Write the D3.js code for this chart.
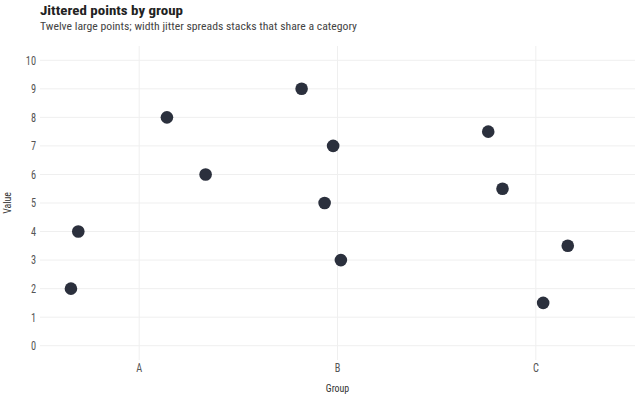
<!DOCTYPE html>
<html>
<head>
<meta charset="utf-8">
<script src="https://cdn.jsdelivr.net/npm/d3@7"></script>
<style>
  html, body { margin: 0; padding: 0; background: #fff; }
  text { font-family: "Roboto Condensed", Roboto, sans-serif; }
</style>
</head>
<body>
<div id="chart"></div>
<script>
// Chart values
const groups = ["A", "B", "C"];
const pointGroup = ["A", "A", "A", "A", "B", "B", "B", "B", "C", "C", "C", "C"];
const pointValue = [2, 4, 8, 6, 9, 7, 5, 3, 7.5, 5.5, 3.5, 1.5];
// horizontal jitter, in fractions of one category step
const pointJitter = [-0.344, -0.307, 0.140, 0.335, -0.181, -0.022, -0.065, 0.017, -0.240, -0.168, 0.161, 0.037];
const yTicks = [0, 1, 2, 3, 4, 5, 6, 7, 8, 9, 10];

const width = 640, height = 400;
const margin = { top: 46, right: 5, bottom: 40, left: 40 };
// Roboto Condensed is not installed, so squeeze plain Roboto a bit
const squeeze = 0.86;

const svg = d3.select("#chart")
    .append("svg")
    .attr("width", width)
    .attr("height", height);

const x = d3.scaleBand()
    .domain(groups)
    .range([margin.left, width - margin.right])
    .padding(0);

const y = d3.scaleLinear()
    .domain([-0.5, 10.5])
    .range([height - margin.bottom, margin.top]);

const points = pointValue.map((v, i) => ({
    group: pointGroup[i],
    value: v,
    jitter: pointJitter[i]
}));

// Grid lines
svg.append("g")
    .selectAll("line.hgrid")
    .data(yTicks)
    .enter().append("line")
    .attr("x1", margin.left)
    .attr("x2", width - margin.right)
    .attr("y1", d => y(d))
    .attr("y2", d => y(d))
    .attr("stroke", "#efefef")
    .attr("stroke-width", 1);

svg.append("g")
    .selectAll("line.vgrid")
    .data(groups)
    .enter().append("line")
    .attr("x1", d => x(d) + x.bandwidth() / 2)
    .attr("x2", d => x(d) + x.bandwidth() / 2)
    .attr("y1", margin.top)
    .attr("y2", height - margin.bottom)
    .attr("stroke", "#efefef")
    .attr("stroke-width", 1);

// Axes (no lines, just labels)
const yAxis = svg.append("g")
    .attr("transform", `translate(${margin.left},0)`)
    .call(d3.axisLeft(y).tickValues(yTicks).tickSize(0).tickPadding(4));

const xAxis = svg.append("g")
    .attr("transform", `translate(0,${height - margin.bottom})`)
    .call(d3.axisBottom(x).tickSize(0).tickPadding(3));

[yAxis, xAxis].forEach(a => {
    a.select(".domain").remove();
    a.selectAll("text")
        .attr("fill", "#555")
        .attr("transform", `scale(${squeeze},1)`)
        .style("font-size", "12px")
        .style("font-family", "'Roboto Condensed', Roboto, sans-serif");
});
// keep the right edge of y labels 4px off the panel after squeezing
yAxis.selectAll("text").attr("x", -4 / squeeze);

// Points
svg.append("g")
    .selectAll("circle.dot")
    .data(points)
    .enter().append("circle")
    .attr("class", "dot")
    .attr("r", 6.3)
    .attr("cx", d => x(d.group) + x.bandwidth() / 2 + d.jitter * x.bandwidth())
    .attr("cy", d => y(d.value))
    .attr("fill", "#2b303d");

// Titles
svg.append("text")
    .attr("x", 40)
    .attr("y", 15)
    .attr("font-size", 13.5)
    .attr("font-weight", "bold")
    .attr("fill", "#222")
    .attr("textLength", 143)
    .attr("lengthAdjust", "spacingAndGlyphs")
    .text("Jittered points by group");

svg.append("text")
    .attr("x", 40)
    .attr("y", 29.5)
    .attr("font-size", 11)
    .attr("fill", "#444")
    .attr("textLength", 317)
    .attr("lengthAdjust", "spacingAndGlyphs")
    .text("Twelve large points; width jitter spreads stacks that share a category");

svg.append("text")
    .attr("transform", `translate(${x("B") + x.bandwidth() / 2},392) scale(${squeeze},1)`)
    .attr("text-anchor", "middle")
    .attr("font-size", 11.5)
    .attr("fill", "#333")
    .text("Group");

svg.append("text")
    .attr("transform", `translate(11,${y(5)}) rotate(-90) scale(${squeeze},1)`)
    .attr("text-anchor", "middle")
    .attr("font-size", 11.5)
    .attr("fill", "#333")
    .text("Value");
</script>
</body>
</html>
